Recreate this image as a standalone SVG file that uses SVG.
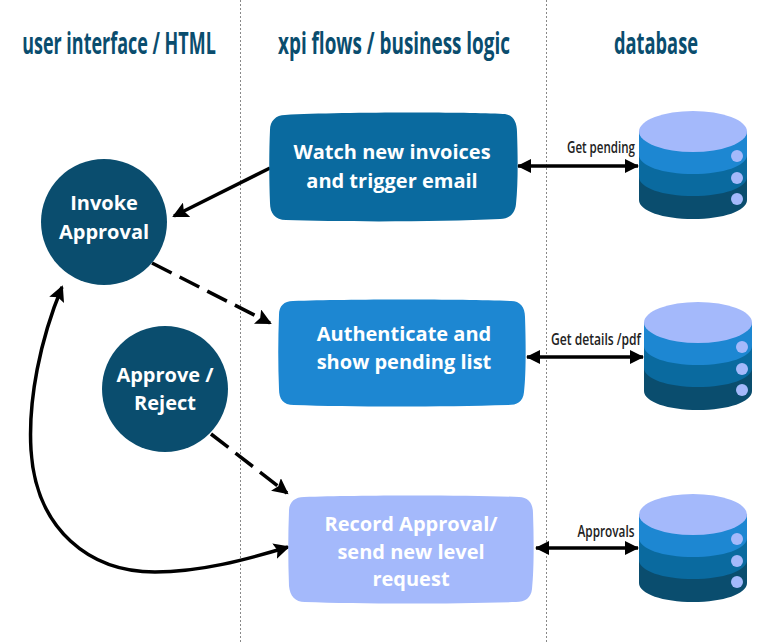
<svg xmlns="http://www.w3.org/2000/svg" width="768" height="644" viewBox="0 0 768 644">
<style>
.h{font-family:"Open Sans","Liberation Sans",sans-serif;font-weight:700;font-size:30px;fill:#0a4d6e;text-anchor:middle}
.n{font-family:"Open Sans","Liberation Sans",sans-serif;font-weight:700;font-size:20px;text-anchor:middle;fill:#fff}
.l{font-family:"Open Sans","Liberation Sans",sans-serif;font-weight:600;font-size:17px;fill:#222;text-anchor:middle}
.div{stroke:#888;stroke-width:1;stroke-dasharray:2 2;fill:none}
.c{stroke:#000;stroke-width:3.500;fill:none}
.d{stroke-dasharray:22 9}
</style>
<defs>
<marker id="a" markerUnits="userSpaceOnUse" markerWidth="17" markerHeight="16" refX="14" refY="8" orient="auto-start-reverse"><path d="M0 0L16 8L0 16L3 8Z" fill="#000"/></marker>
<marker id="b" markerUnits="userSpaceOnUse" markerWidth="16" markerHeight="16" refX="13" refY="7" orient="auto-start-reverse"><path d="M0 0L14 7L0 14Z" fill="#000"/></marker>
<g id="db"><path d="M0 33V102C0 113 24 121 54 121S108 113 108 102V33Z" fill="#0a4d6e"/><path d="M0 33V79C0 90 24 98 54 98S108 90 108 79V33Z" fill="#0a6a9f"/><path d="M0 33V57C0 68 24 76 54 76S108 68 108 57V33Z" fill="#1d87d2"/><ellipse cx="54" cy="33.500" rx="54" ry="20.500" fill="#a4b9fb"/><circle cx="98" cy="58" r="6" fill="#a4b9fb"/><circle cx="98" cy="80" r="6" fill="#a4b9fb"/><circle cx="98" cy="101" r="6" fill="#a4b9fb"/></g>
</defs>
<rect width="768" height="644" fill="#fff"/>
<g id="dividers"><line class="div" x1="240.500" y1="0" x2="240.500" y2="644"/><line class="div" x1="546.500" y1="0" x2="546.500" y2="644"/></g>
<g id="headers">
<text class="h" transform="translate(119 54) scale(.599 1)">user interface / HTML</text>
<text class="h" transform="translate(394 54) scale(.63 1)">xpi flows / business logic</text>
<text class="h" transform="translate(656 54) scale(.609 1)">database</text>
</g>
<g id="connectors">
<path class="c" d="M270 168L174 216" marker-end="url(#a)"/>
<path class="c d" d="M152 263L270 323" marker-end="url(#a)"/>
<path class="c d" d="M211 434L287 493" marker-end="url(#a)"/>
<path class="c" d="M62 287C40 340 28 400 31 450C36 530 90 572 155 572C200 572 245 560 288 547" marker-start="url(#a)" marker-end="url(#a)"/>
<path class="c" d="M518 166H638" marker-start="url(#b)" marker-end="url(#b)"/>
<path class="c" d="M527 357H643" marker-start="url(#b)" marker-end="url(#b)"/>
<path class="c" d="M536 548H638" marker-start="url(#b)" marker-end="url(#b)"/>
</g>
<g id="label-pending"><text class="l" x="601" y="153" textLength="68" lengthAdjust="spacingAndGlyphs">Get pending</text></g>
<g id="label-details"><text class="l" x="596" y="345" textLength="90" lengthAdjust="spacingAndGlyphs">Get details /pdf</text></g>
<g id="label-approvals"><text class="l" x="606" y="537" textLength="57" lengthAdjust="spacingAndGlyphs">Approvals</text></g>
<g id="watch"><path d="M285 115C340 112 460 112 503 114C513 114 517 122 517 132C518 160 518 185 516 204C515 214 509 219 500 219C440 222 340 222 286 220C275 220 270 213 270 203C269 180 269 150 270 130C270 121 276 115 285 115Z" fill="#0a6a9f"/><text class="n" x="392" y="159">Watch new invoices</text><text class="n" x="392" y="188">and trigger email</text></g>
<g id="auth"><path d="M293 301C350 299 460 299 511 301C520 301 525 307 525 317C526 345 526 375 524 392C523 402 517 405 508 405C440 407 350 407 294 405C283 405 279 399 279 389C278 365 278 340 279 315C279 306 284 301 293 301Z" fill="#1d87d2"/><text class="n" x="404" y="341">Authenticate and</text><text class="n" x="404" y="369">show pending list</text></g>
<g id="record"><path d="M304 497C360 495 470 495 519 497C528 497 533 503 533 513C534 540 534 570 532 589C531 598 525 602 516 602C450 604 360 604 305 602C295 602 290 596 289 586C288 560 288 535 289 511C289 502 295 497 304 497Z" fill="#a4b9fb"/><text class="n" x="411" y="531">Record Approval/</text><text class="n" x="411" y="559">send new level</text><text class="n" x="411" y="586">request</text></g>
<g id="invoke"><circle cx="104" cy="222" r="63" fill="#0a4d6e"/><text class="n" x="104" y="210">Invoke</text><text class="n" x="104" y="239">Approval</text></g>
<g id="approve"><circle cx="165" cy="389" r="63" fill="#0a4d6e"/><text class="n" x="165" y="382">Approve /</text><text class="n" x="165" y="410">Reject</text></g>
<g id="db1"><use href="#db" x="639" y="98"/></g>
<g id="db2"><use href="#db" x="644" y="289"/></g>
<g id="db3"><use href="#db" x="639" y="481"/></g>
</svg>
